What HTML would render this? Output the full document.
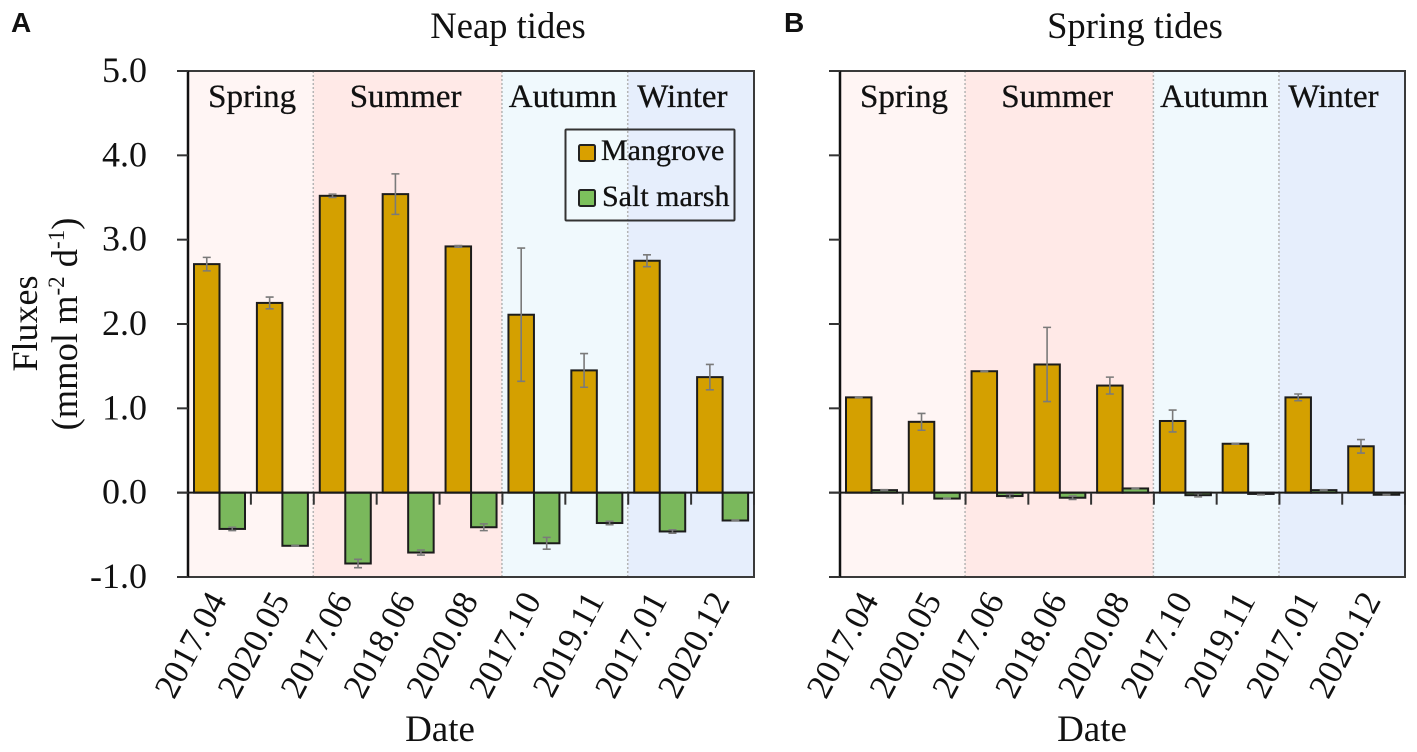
<!DOCTYPE html>
<html lang="en">
<head>
<meta charset="utf-8">
<title>Neap and spring tide fluxes</title>
<style>
html,body{margin:0;padding:0;background:#fff;width:1417px;height:752px;overflow:hidden}
svg{display:block}
text{font-family:"Liberation Serif",serif;fill:#111}
</style>
</head>
<body>
<svg id="chart" width="1417" height="752" viewBox="0 0 1417 752" xmlns="http://www.w3.org/2000/svg">
  <text x="11" y="32" style="font-family:'Liberation Sans',sans-serif;font-weight:700;font-size:28px">A</text>
  <text x="784" y="32" style="font-family:'Liberation Sans',sans-serif;font-weight:700;font-size:28px">B</text>
  <text x="508" y="38" text-anchor="middle" font-size="36.6">Neap tides</text>
  <text x="1135" y="38" text-anchor="middle" font-size="36.6">Spring tides</text>
  <text transform="translate(37,323.5) rotate(-90)" text-anchor="middle" font-size="36">Fluxes</text>
  <text transform="translate(77,324) rotate(-90)" text-anchor="middle" font-size="36.5">(mmol m<tspan font-size="23" dy="-13">-2</tspan><tspan dy="13"> d</tspan><tspan font-size="23" dy="-13">-1</tspan><tspan dy="13">)</tspan></text>
  <text x="440" y="741" text-anchor="middle" font-size="37">Date</text>
  <text x="1092" y="741" text-anchor="middle" font-size="37">Date</text>
  <g id="panels"></g>
  <g>
    <rect x="565.5" y="129.5" width="169" height="91" fill="none" stroke="#333" stroke-width="2" rx="1"/>
    <rect x="579" y="145" width="16" height="16" fill="#d9a000" stroke="#222" stroke-width="2" rx="1.5"/>
    <text x="601" y="160" font-size="30" stroke="#111" stroke-width="0.3">Mangrove</text>
    <rect x="579" y="190" width="16" height="16" fill="#7cc05c" stroke="#222" stroke-width="2" rx="1.5"/>
    <text x="602" y="206" font-size="30" stroke="#111" stroke-width="0.3">Salt marsh</text>
  </g>
</svg>
<script>
const categories = ['2017.04','2020.05','2017.06','2018.06','2020.08','2017.10','2019.11','2017.01','2020.12'];
const seasons = ['Spring','Summer','Autumn','Winter'];
const seasonCounts = [2,3,2,2];
const seasonColors = ['#fff5f4','#ffe9e7','#f0f9fd','#e6eefc'];
const yTicks = [-1,0,1,2,3,4,5];
const yTickLabels = ['-1.0','0.0','1.0','2.0','3.0','4.0','5.0'];
const neapMangrove = [2.71,2.25,3.52,3.54,2.92,2.11,1.45,2.75,1.37];
const neapMangroveErr = [0.08,0.07,0.02,0.24,0.01,0.79,0.20,0.07,0.15];
const neapSalt = [-0.43,-0.63,-0.84,-0.71,-0.41,-0.60,-0.36,-0.46,-0.33];
const neapSaltErr = [0.02,0.005,0.05,0.03,0.04,0.07,0.02,0.02,0.005];
const springMangrove = [1.13,0.84,1.44,1.52,1.27,0.85,0.58,1.13,0.55];
const springMangroveErr = [0.005,0.10,0.005,0.44,0.10,0.13,0.005,0.04,0.08];
const springSalt = [0.03,-0.07,-0.04,-0.06,0.05,-0.03,-0.015,0.03,-0.025];
const springSaltErr = [0.005,0.005,0.02,0.02,0.005,0.02,0.01,0.005,0.005];

const NS = 'http://www.w3.org/2000/svg';
const root = document.getElementById('panels');
const top_ = 71, bottom_ = 577;
const yScale = v => top_ + (5 - v) * (bottom_ - top_) / 6;

function mk(tag, parent, attrs) {
  const el = document.createElementNS(NS, tag);
  for (const k in attrs) el.setAttribute(k, attrs[k]);
  parent.appendChild(el);
  return el;
}

function seasonLabelShift(si) {
  if (si === 0) return 1.5;
  if (si === 3) return -8.5;
  return -2;
}

function drawPanel(key, left, right, mangrove, mangroveErr, salt, saltErr, showYLabels) {
  const step = (right - left) / categories.length;
  const xScale = i => left + i * step;
  const g = mk('g', root, {});
  
  

  let idx = 0;
  seasons.forEach((s, si) => {
    const x0 = si === 0 ? left : xScale(idx) - 0.5;
    const x1 = si === seasons.length - 1 ? right : xScale(idx + seasonCounts[si]) - 0.5;
    const band = mk('rect', g, {x: x0, y: top_, width: x1 - x0, height: bottom_ - top_, fill: seasonColors[si]});
    
    
    if (si > 0) {
      const div = mk('line', g, {x1: x0, x2: x0, y1: top_, y2: bottom_, stroke: '#b5b5b5', 'stroke-width': 1.5, 'stroke-dasharray': '2 2'});
      
      
    }
    const lab = mk('text', g, {x: (x0 + x1) / 2 + seasonLabelShift(si), y: 107, 'text-anchor': 'middle', 'font-size': 33, stroke: '#111', 'stroke-width': 0.3});
    
    
    lab.textContent = s;
    idx += seasonCounts[si];
  });

  const barW = 25.5, pad = 6;
  function bar(i, v, e, off, color, name) {
    const x = xScale(i) + off;
    const y0 = yScale(Math.max(v, 0)), y1 = yScale(Math.min(v, 0));
    const r = mk('rect', g, {x: x, y: y0, width: barW, height: Math.max(y1 - y0, 0.5), fill: color, stroke: '#1c1c1c', 'stroke-width': 2});
    
    
    const cx = x + barW / 2;
    const a = yScale(v + e), b = yScale(v - e);
    const eb = mk('path', g, {d: 'M' + (cx - 4) + ' ' + a + 'H' + (cx + 4) + 'M' + cx + ' ' + a + 'V' + b + 'M' + (cx - 4) + ' ' + b + 'H' + (cx + 4), fill: 'none', stroke: '#7a7a7a', 'stroke-width': 1.6});
    
    
  }
  categories.forEach((c, i) => {
    bar(i, mangrove[i], mangroveErr[i], pad, '#d4a000', 'mangrove');
    bar(i, salt[i], saltErr[i], pad + barW, '#7ab85c', 'salt-marsh');
  });

  const frame = mk('path', g, {d: 'M' + (left - 11) + ' ' + top_ + 'H' + right + 'V' + bottom_ + 'H' + (left - 11), fill: 'none', stroke: '#3a3a3a', 'stroke-width': 2});
  
  
  const yAxis = mk('line', g, {x1: left, x2: left, y1: top_, y2: bottom_, stroke: '#111', 'stroke-width': 2.5});
  
  
  const zero = mk('line', g, {x1: left - 11, x2: right, y1: yScale(0), y2: yScale(0), stroke: '#1a1a1a', 'stroke-width': 2});
  
  

  yTicks.forEach((t, i) => {
    const tk = mk('line', g, {x1: left - 11, x2: left, y1: yScale(t), y2: yScale(t), stroke: '#333', 'stroke-width': 2});
    
    
    if (showYLabels) {
      const tl = mk('text', g, {x: 147, y: yScale(t) + 11, 'text-anchor': 'end', 'font-size': 36});
      
      
      tl.textContent = yTickLabels[i];
    }
  });

  categories.forEach((c, i) => {
    const tx = xScale(i + 1);
    const tk = mk('line', g, {x1: tx, x2: tx, y1: yScale(0), y2: yScale(0) + 12, stroke: '#333', 'stroke-width': 2});
    
    
    const cx = xScale(i) + step / 2;
    const tl = mk('text', g, {transform: 'translate(' + (cx + 8) + ',600) rotate(-62)', 'text-anchor': 'end', 'font-size': 35});
    
    
    tl.textContent = c;
  });
}

drawPanel('a', 188, 754, neapMangrove, neapMangroveErr, neapSalt, neapSaltErr, true);
drawPanel('b', 840, 1405, springMangrove, springMangroveErr, springSalt, springSaltErr, false);
</script>
</body>
</html>
